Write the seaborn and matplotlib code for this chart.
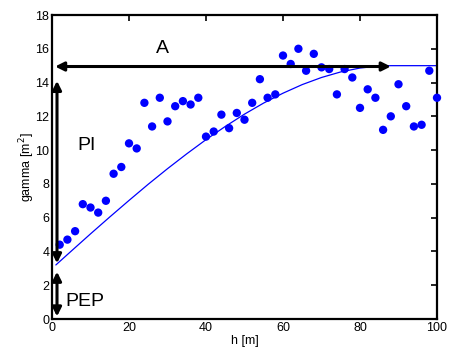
import numpy as np
import matplotlib
matplotlib.use("Agg")
import matplotlib.pyplot as plt
import pandas as pd
import seaborn as sns

# experimental semivariogram (lag distance h, gamma)
lags = np.arange(2, 101, 2)
gamma = [4.4, 4.7, 5.2, 6.8, 6.6, 6.3, 7.0, 8.6, 9.0, 10.4,
         10.1, 12.8, 11.4, 13.1, 11.7, 12.6, 12.9, 12.7, 13.1, 10.8,
         11.1, 12.1, 11.3, 12.2, 11.8, 12.8, 14.2, 13.1, 13.3, 15.6,
         15.1, 16.0, 14.7, 15.7, 14.9, 14.8, 13.3, 14.8, 14.3, 12.5,
         13.6, 13.1, 11.2, 12.0, 13.9, 12.6, 11.4, 11.5, 14.7, 13.1]

# fitted model curve
model_h = [1, 5, 10, 15, 20, 25, 30, 35, 40, 45, 50, 55, 60, 65, 70,
           75, 80, 85, 88, 100]
model_gamma = [3.20, 4.02, 5.04, 6.04, 7.02, 7.98, 8.90, 9.78, 10.62,
               11.40, 12.13, 12.79, 13.37, 13.88, 14.30, 14.63, 14.86,
               14.98, 15.0, 15.0]

sns.set_style("white")
plt.rcParams["font.family"] = ["Liberation Sans", "DejaVu Sans"]
plt.rcParams["text.color"] = "black"
plt.rcParams["axes.labelcolor"] = "black"
plt.rcParams["xtick.color"] = "black"
plt.rcParams["ytick.color"] = "black"

fig = plt.figure(figsize=(4.55, 3.53), dpi=100)
ax = fig.add_axes([52 / 455, 1 - 319 / 353, 385 / 455, 304 / 353])

df = pd.DataFrame({"h": lags, "gamma": gamma})
model = pd.DataFrame({"h": model_h, "gamma": model_gamma})

sns.lineplot(data=model, x="h", y="gamma", color="#0000ff", lw=0.9, ax=ax)
sns.scatterplot(data=df, x="h", y="gamma", color="#0000ff", s=36,
                edgecolor="none", ax=ax, zorder=3, clip_on=False)

# annotation arrows
arrow = dict(arrowstyle="<|-|>", color="black", lw=2.2,
             mutation_scale=13, shrinkA=0, shrinkB=0)
ax.annotate("", xy=(0.8, 14.95), xytext=(88, 14.95), arrowprops=arrow)
ax.annotate("", xy=(1.3, 14.1), xytext=(1.3, 3.3), arrowprops=arrow)
ax.annotate("", xy=(1.3, 2.8), xytext=(1.3, 0.15), arrowprops=arrow)
ax.text(28.6, 16.0, "A", fontsize=14, ha="center", va="center")
ax.text(9.0, 10.3, "PI", fontsize=14, ha="center", va="center")
ax.text(8.5, 1.05, "PEP", fontsize=14, ha="center", va="center")

ax.set_xlim(0, 100)
ax.set_ylim(0, 18)
ax.set_xticks(range(0, 101, 20))
ax.set_yticks(range(0, 19, 2))
ax.tick_params(direction="in", length=4, width=1.2, labelsize=9,
               top=True, right=True, pad=2)
for sp in ax.spines.values():
    sp.set_linewidth(1.6)
    sp.set_color("black")
ax.set_xlabel("h [m]", fontsize=9, labelpad=1)
ax.set_ylabel("gamma [m$^2$]", fontsize=9, labelpad=-1)

fig.savefig("out.png", dpi=100)
